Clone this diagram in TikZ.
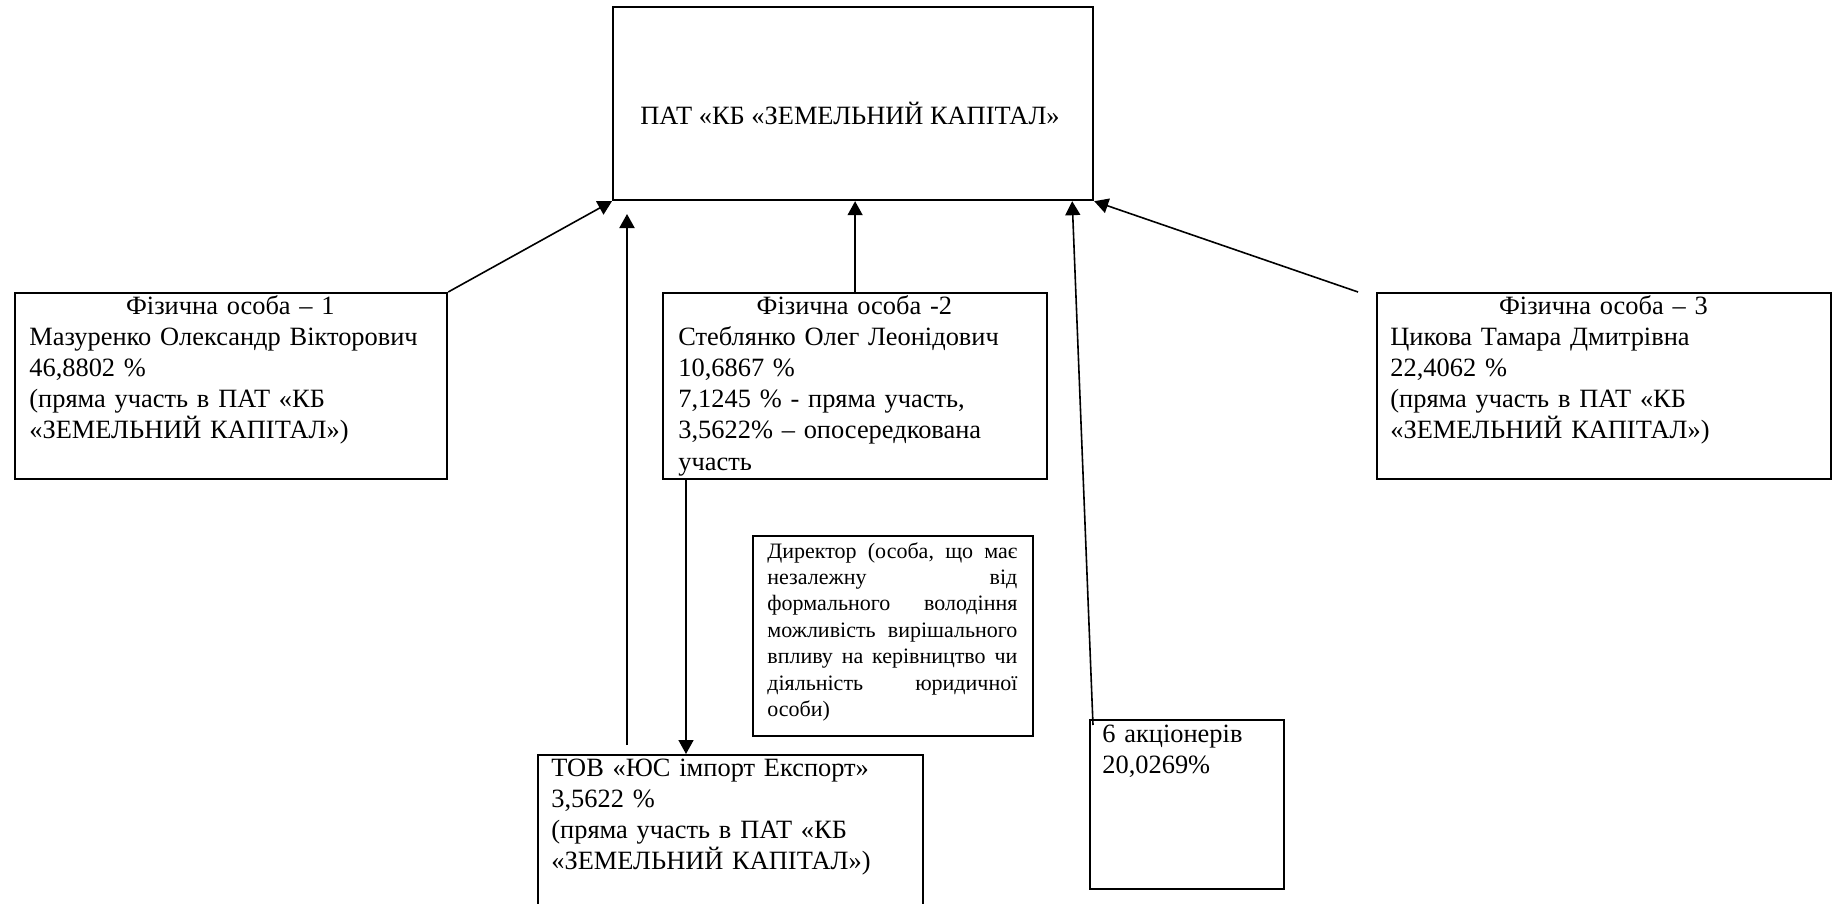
\documentclass[tikz,border=0pt]{standalone}
\usepackage{fontspec}
\setmainfont{Liberation Serif}
\usetikzlibrary{arrows.meta,calc}
\begin{document}
\begin{tikzpicture}[x=0.5pt,y=-0.5pt,
  box/.style={draw, line width=1.1pt, anchor=north west, inner sep=0pt},
  txt/.style={inner sep=0pt, anchor=base west, align=left, font=\fontsize{13.2}{15.6}\selectfont},
  dirtxt/.style={inner sep=0pt, anchor=base west, align=left, font=\fontsize{11}{13.2}\selectfont},
  arr/.style={line width=0.8pt, -{Triangle[length=7pt,width=7.5pt]}}]
\useasboundingbox (0,0) rectangle (1832,904);
\clip (0,0) rectangle (1832,904);

% boxes
\node[box, minimum width=240pt, minimum height=96.5pt] (top) at (612,6) {};
\node[anchor=base, inner sep=0pt, font=\fontsize{13.2}{15.6}\selectfont] (toptext) at (850,125) {ПАТ «КБ «ЗЕМЕЛЬНИЙ КАПІТАЛ»};

\node[box, minimum width=216pt, minimum height=93pt] (b1) at (14,292) {};
\node[txt, text width=201pt] (t1) at (29,314) {\makebox[\linewidth]{Фізична особа – 1}\\Мазуренко Олександр Вікторович\\46,8802 \%\\(пряма участь в ПАТ «КБ\\«ЗЕМЕЛЬНИЙ КАПІТАЛ»)};

\node[box, minimum width=192pt, minimum height=93pt] (b2) at (662,292) {};
\node[txt, text width=176pt] (t2) at (678,314) {\makebox[\linewidth]{Фізична особа -2}\\Стеблянко Олег Леонідович\\10,6867 \%\\7,1245 \% - пряма участь,\\3,5622\% – опосередкована\\участь};

\node[box, minimum width=227pt, minimum height=93pt] (b3) at (1376,292) {};
\node[txt, text width=213pt] (t3) at (1390,314) {\makebox[\linewidth]{Фізична особа – 3}\\Цикова Тамара Дмитрівна\\22,4062 \%\\(пряма участь в ПАТ «КБ\\«ЗЕМЕЛЬНИЙ КАПІТАЛ»)};

\node[box, minimum width=140pt, minimum height=100pt] (dir) at (752,535) {};
\node[dirtxt, text width=125pt] (tdir) at (767,558) {\makebox[\linewidth]{Директор\hfill(особа,\hfill що\hfill має}\\\makebox[\linewidth]{незалежну\hfill від}\\\makebox[\linewidth]{формального\hfill володіння}\\\makebox[\linewidth]{можливість\hfill вирішального}\\\makebox[\linewidth]{впливу\hfill на\hfill керівництво\hfill чи}\\\makebox[\linewidth]{діяльність\hfill юридичної}\\особи)};

\node[box, minimum width=192.5pt, minimum height=100pt] (tov) at (537,754) {};
\node[txt, text width=178pt] (ttov) at (551,776) {ТОВ «ЮС імпорт Експорт»\\3,5622 \%\\(пряма участь в ПАТ «КБ\\«ЗЕМЕЛЬНИЙ КАПІТАЛ»)};

\node[box, minimum width=97pt, minimum height=84.5pt] (akc) at (1089,719) {};
\node[txt, text width=85pt] (takc) at (1102,742) {6 акціонерів\\20,0269\%};

% connectors
\draw[arr] (b1.north east) -- (top.south west);
\coordinate (a2e) at (627,214);
\draw[arr, line width=1pt] ($(tov.north west)+(90,-9)$) -- (a2e);
\draw[arr] (b2.north) -- (b2.north |- top.south);
\draw[arr] ($(akc.north west)+(4,6)$) -- ($(top.south east)+(-22,0)$);
\draw[arr] ($(b3.north west)+(-18,0)$) -- (top.south east);
\draw[arr] ($(b2.south west)+(24,0)$) coordinate (a6s) -- (a6s |- tov.north);
\end{tikzpicture}
\end{document}
